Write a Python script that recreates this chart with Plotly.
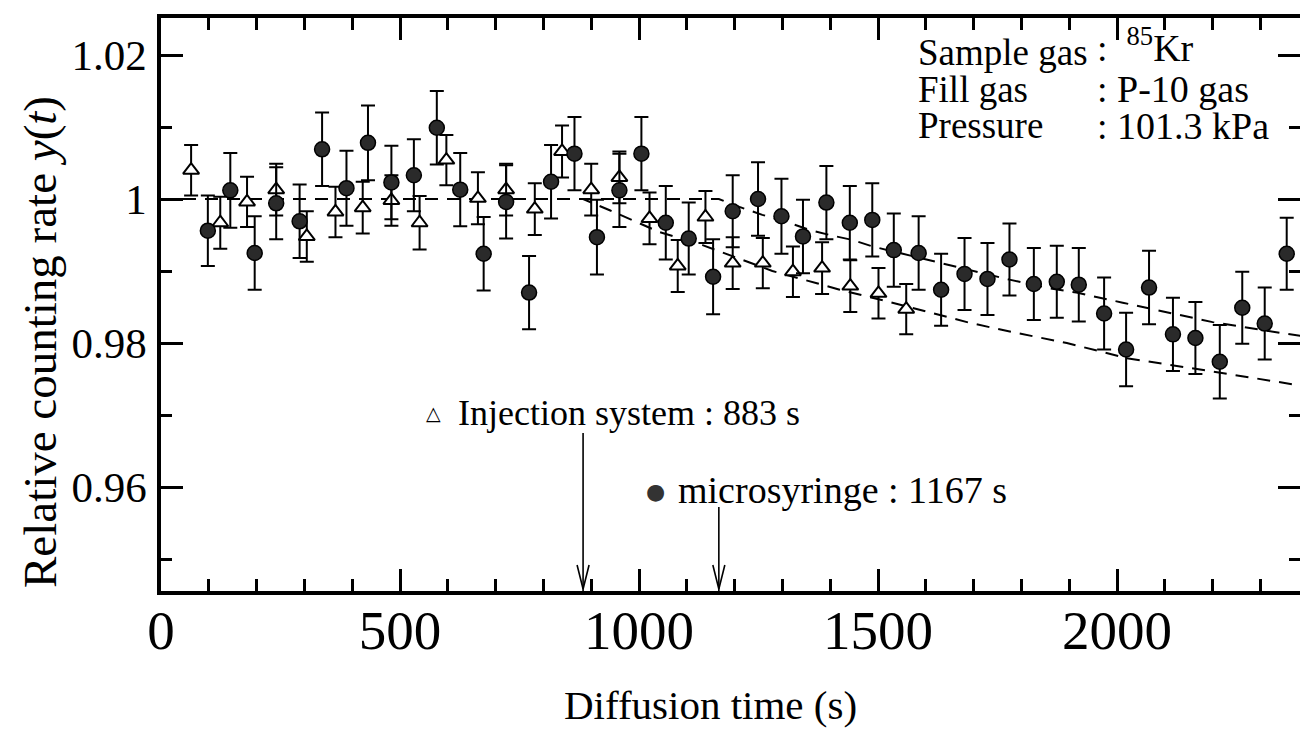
import plotly.graph_objects as go

# ---- measured relative counting rates ----
# injection system (open triangles)
inj_t = [63, 124, 180, 241, 305, 365, 422, 482, 541, 597, 663, 722, 782, 839, 900,
         959, 1022, 1081, 1139, 1196, 1259, 1322, 1383, 1442, 1501, 1559]
inj_y = [1.0040, 0.9967, 0.9996, 1.0013, 0.9948, 0.9982, 0.9988, 0.9998, 0.9967, 1.0054,
         1.0001, 1.0013, 0.9986, 1.0066, 1.0013, 1.0030, 0.9973, 0.9907, 0.9975, 0.9911,
         0.9911, 0.9899, 0.9904, 0.9879, 0.9869, 0.9847]
inj_err = [0.0035, 0.0036, 0.0035, 0.0036, 0.0035, 0.0035, 0.0036, 0.0035, 0.0037, 0.0035,
           0.0036, 0.0036, 0.0036, 0.0036, 0.0036, 0.0036, 0.0036, 0.0036, 0.0036, 0.0036,
           0.0035, 0.0035, 0.0036, 0.0036, 0.0035, 0.0035]

# microsyringe (filled circles)
syr_t = [98, 145, 196, 241, 290, 337, 388, 433, 482, 529, 577, 626, 675, 722, 770, 816,
         865, 912, 959, 1005, 1056, 1104, 1155, 1196, 1249, 1298, 1343, 1392, 1441, 1488,
         1533, 1585, 1632, 1681, 1729, 1775, 1826, 1874, 1920, 1973, 2019, 2067, 2117,
         2164, 2215, 2262, 2309, 2355]
syr_y = [0.9956, 1.0012, 0.9925, 0.9994, 0.9969, 1.0069, 1.0015, 1.0078, 1.0023, 1.0033,
         1.0099, 1.0013, 0.9924, 0.9996, 0.9870, 1.0024, 1.0063, 0.9947, 1.0012, 1.0063,
         0.9967, 0.9945, 0.9892, 0.9983, 1.0000, 0.9976, 0.9948, 0.9995, 0.9967, 0.9971,
         0.9929, 0.9925, 0.9874, 0.9896, 0.9889, 0.9916, 0.9882, 0.9885, 0.9881, 0.9841,
         0.9791, 0.9877, 0.9812, 0.9807, 0.9774, 0.9849, 0.9827, 0.9924]
syr_err = [0.0049, 0.0052, 0.0051, 0.0050, 0.0051, 0.0051, 0.0052, 0.0052, 0.0051, 0.0050,
           0.0051, 0.0051, 0.0051, 0.0051, 0.0051, 0.0051, 0.0051, 0.0052, 0.0051, 0.0051,
           0.0051, 0.0050, 0.0052, 0.0050, 0.0051, 0.0052, 0.0051, 0.0051, 0.0051, 0.0051,
           0.0051, 0.0051, 0.0050, 0.0050, 0.0050, 0.0050, 0.0050, 0.0050, 0.0051, 0.0050,
           0.0051, 0.0051, 0.0051, 0.0050, 0.0051, 0.0050, 0.0050, 0.0050]

# ---- fitted diffusion curves (dashed) ----
inj_fit_t = [0, 300, 600, 883, 940, 997, 1043, 1133, 1225, 1279, 1372, 1420, 1524,
             1608, 1692, 1782, 1895, 2020, 2140, 2242, 2383]
inj_fit_y = [1.0, 1.0, 1.0, 1.0, 0.9984, 0.9967, 0.9954, 0.9936, 0.9913, 0.9900, 0.9883,
             0.9874, 0.9857, 0.9842, 0.9828, 0.9815, 0.9800, 0.9779, 0.9767, 0.9756, 0.9741]
syr_fit_t = [0, 400, 800, 1167, 1210, 1258, 1309, 1357, 1399, 1447, 1489, 1635, 1775,
             1859, 1915, 2012, 2104, 2200, 2304, 2383]
syr_fit_y = [1.0, 1.0, 1.0, 1.0, 0.9989, 0.9978, 0.9968, 0.9957, 0.9950, 0.9943, 0.9934,
             0.9911, 0.9888, 0.9876, 0.9870, 0.9856, 0.9843, 0.9829, 0.9818, 0.9810]

# arrival times marked with arrows
arrival_times = [883, 1167]

# ---- axis ticks ----
x_tickvals = [0, 500, 1000, 1500, 2000]
x_minor = [100, 200, 300, 400, 600, 700, 800, 900, 1100, 1200, 1300, 1400,
           1600, 1700, 1800, 1900, 2100, 2200, 2300]
y_tickvals = [0.96, 0.98, 1.00, 1.02]
y_ticktext = ["0.96", "0.98", "1", "1.02"]
y_minor = [0.95, 0.97, 0.99, 1.01]

# ---- geometry ----
W, H = 1300, 734
L, R, T, B = 161, 0, 18, 143
X_RANGE = [0, 2382.8]
Y_RANGE = [0.945556, 1.025139]
SERIF = "Liberation Serif, Times New Roman, serif"
PLOT_W = W - L - R
PLOT_H = H - T - B


def px_y(py):
    """pixel row -> data y"""
    return Y_RANGE[1] - (py - T) / PLOT_H * (Y_RANGE[1] - Y_RANGE[0])


def paper_x(px):
    return (px - L) / PLOT_W


def paper_y(py):
    return (H - B - py) / PLOT_H


fig = go.Figure()

fig.add_trace(go.Scatter(x=inj_fit_t, y=inj_fit_y, mode="lines",
                         line=dict(color="black", width=2, dash="13px,9px"),
                         hoverinfo="skip", showlegend=False))
fig.add_trace(go.Scatter(x=syr_fit_t, y=syr_fit_y, mode="lines",
                         line=dict(color="black", width=2, dash="13px,9px"),
                         hoverinfo="skip", showlegend=False))

fig.add_trace(go.Scatter(
    x=inj_t, y=inj_y, mode="markers", name="Injection system",
    marker=dict(symbol="triangle-up", size=14, color="white",
                line=dict(color="black", width=2)),
    error_y=dict(type="data", array=inj_err, color="black", thickness=2, width=7),
    showlegend=False))
fig.add_trace(go.Scatter(
    x=syr_t, y=syr_y, mode="markers", name="microsyringe",
    marker=dict(symbol="circle", size=15, color="#2a2a2a",
                line=dict(color="black", width=1.5)),
    error_y=dict(type="data", array=syr_err, color="black", thickness=2, width=7),
    showlegend=False))

# invisible trace carrying the right-hand tick axis
fig.add_trace(go.Scatter(x=[None], y=[None], yaxis="y2", showlegend=False,
                         hoverinfo="skip"))

# arrows marking the arrival times
arrow_tops = [px_y(433), px_y(507)]
shapes = []
for t, ytop in zip(arrival_times, arrow_tops):
    shapes.append(dict(type="line", xref="x", yref="y", x0=t, x1=t,
                       y0=ytop, y1=Y_RANGE[0], line=dict(color="black", width=1.6)))
    shapes.append(dict(type="path", xref="x", yref="y",
                       xsizemode="pixel", ysizemode="pixel",
                       xanchor=t, yanchor=Y_RANGE[0],
                       path="M -6,26 L 0,2 L 6,26",
                       line=dict(color="black", width=1.6)))

annotations = [
    # axis titles
    dict(text="Diffusion time (s)", xref="paper", yref="paper",
         x=paper_x(710), y=paper_y(705),
         showarrow=False, xanchor="center", yanchor="middle",
         font=dict(family=SERIF, size=41, color="black")),
    dict(text="Relative counting rate <i>y</i>(<i>t</i>)", xref="paper", yref="paper",
         x=paper_x(40), y=paper_y(342), textangle=-90,
         showarrow=False, xanchor="center", yanchor="middle",
         font=dict(family=SERIF, size=47, color="black")),
    # arrival time labels
    dict(text="△", xref="paper", yref="paper", x=paper_x(433), y=paper_y(413),
         showarrow=False, xanchor="center", yanchor="middle",
         font=dict(family="DejaVu Sans", size=19, color="black")),
    dict(text="Injection system : 883 s", xref="paper", yref="paper",
         x=paper_x(456), y=paper_y(413),
         showarrow=False, xanchor="left", yanchor="middle",
         font=dict(family=SERIF, size=36, color="black")),
    dict(text="●", xref="paper", yref="paper", x=paper_x(655), y=paper_y(491),
         showarrow=False, xanchor="center", yanchor="middle",
         font=dict(family="DejaVu Sans", size=22, color="#333333")),
    dict(text="microsyringe : 1167 s", xref="paper", yref="paper",
         x=paper_x(676), y=paper_y(490),
         showarrow=False, xanchor="left", yanchor="middle",
         font=dict(family=SERIF, size=38, color="black")),
]

# measurement conditions block
cond_left = ["Sample gas", "Fill gas", "Pressure"]
cond_right = [":  <sup>85</sup>Kr", ": P-10 gas", ": 101.3 kPa"]
cond_rows = [53, 89, 126]
cond_shift = [8, 0, 0]
for lt, rt, py, dy in zip(cond_left, cond_right, cond_rows, cond_shift):
    annotations.append(dict(text=lt, xref="paper", yref="paper",
                            x=paper_x(916), y=paper_y(py),
                            showarrow=False, xanchor="left", yanchor="middle",
                            font=dict(family=SERIF, size=37, color="black")))
    annotations.append(dict(text=rt, xref="paper", yref="paper",
                            x=paper_x(1095), y=paper_y(py - dy),
                            showarrow=False, xanchor="left", yanchor="middle",
                            font=dict(family=SERIF, size=38, color="black")))

fig.update_layout(
    width=W, height=H,
    margin=dict(l=L, r=R, t=T, b=B, pad=0),
    paper_bgcolor="white", plot_bgcolor="white",
    shapes=shapes, annotations=annotations,
    xaxis=dict(
        range=X_RANGE, showgrid=False, zeroline=False,
        showline=True, linecolor="black", linewidth=3.5, mirror="ticks",
        ticks="inside", ticklen=22, tickwidth=3, tickcolor="black",
        tickvals=x_tickvals, ticktext=[str(v) for v in x_tickvals],
        tickfont=dict(family=SERIF, size=55, color="black"),
        ticklabelstandoff=-12,
        minor=dict(tickvals=x_minor, ticks="inside", ticklen=12, tickwidth=3,
                   tickcolor="black", showgrid=False),
    ),
    yaxis=dict(
        range=Y_RANGE, showgrid=False, zeroline=False,
        showline=True, linecolor="black", linewidth=3.5, mirror=False,
        ticks="inside", ticklen=22, tickwidth=3, tickcolor="black",
        tickvals=y_tickvals, ticktext=y_ticktext,
        tickfont=dict(family=SERIF, size=43, color="black"),
        ticklabelstandoff=2,
        minor=dict(tickvals=y_minor, ticks="inside", ticklen=11, tickwidth=3,
                   tickcolor="black", showgrid=False),
    ),
    yaxis2=dict(
        range=Y_RANGE, overlaying="y", side="right", anchor="x",
        showgrid=False, zeroline=False, showline=False, showticklabels=False,
        ticks="inside", ticklen=22, tickwidth=3, tickcolor="black",
        tickvals=y_tickvals,
        minor=dict(tickvals=y_minor, ticks="inside", ticklen=11, tickwidth=3,
                   tickcolor="black", showgrid=False),
    ),
)

fig.write_html("out.html")
